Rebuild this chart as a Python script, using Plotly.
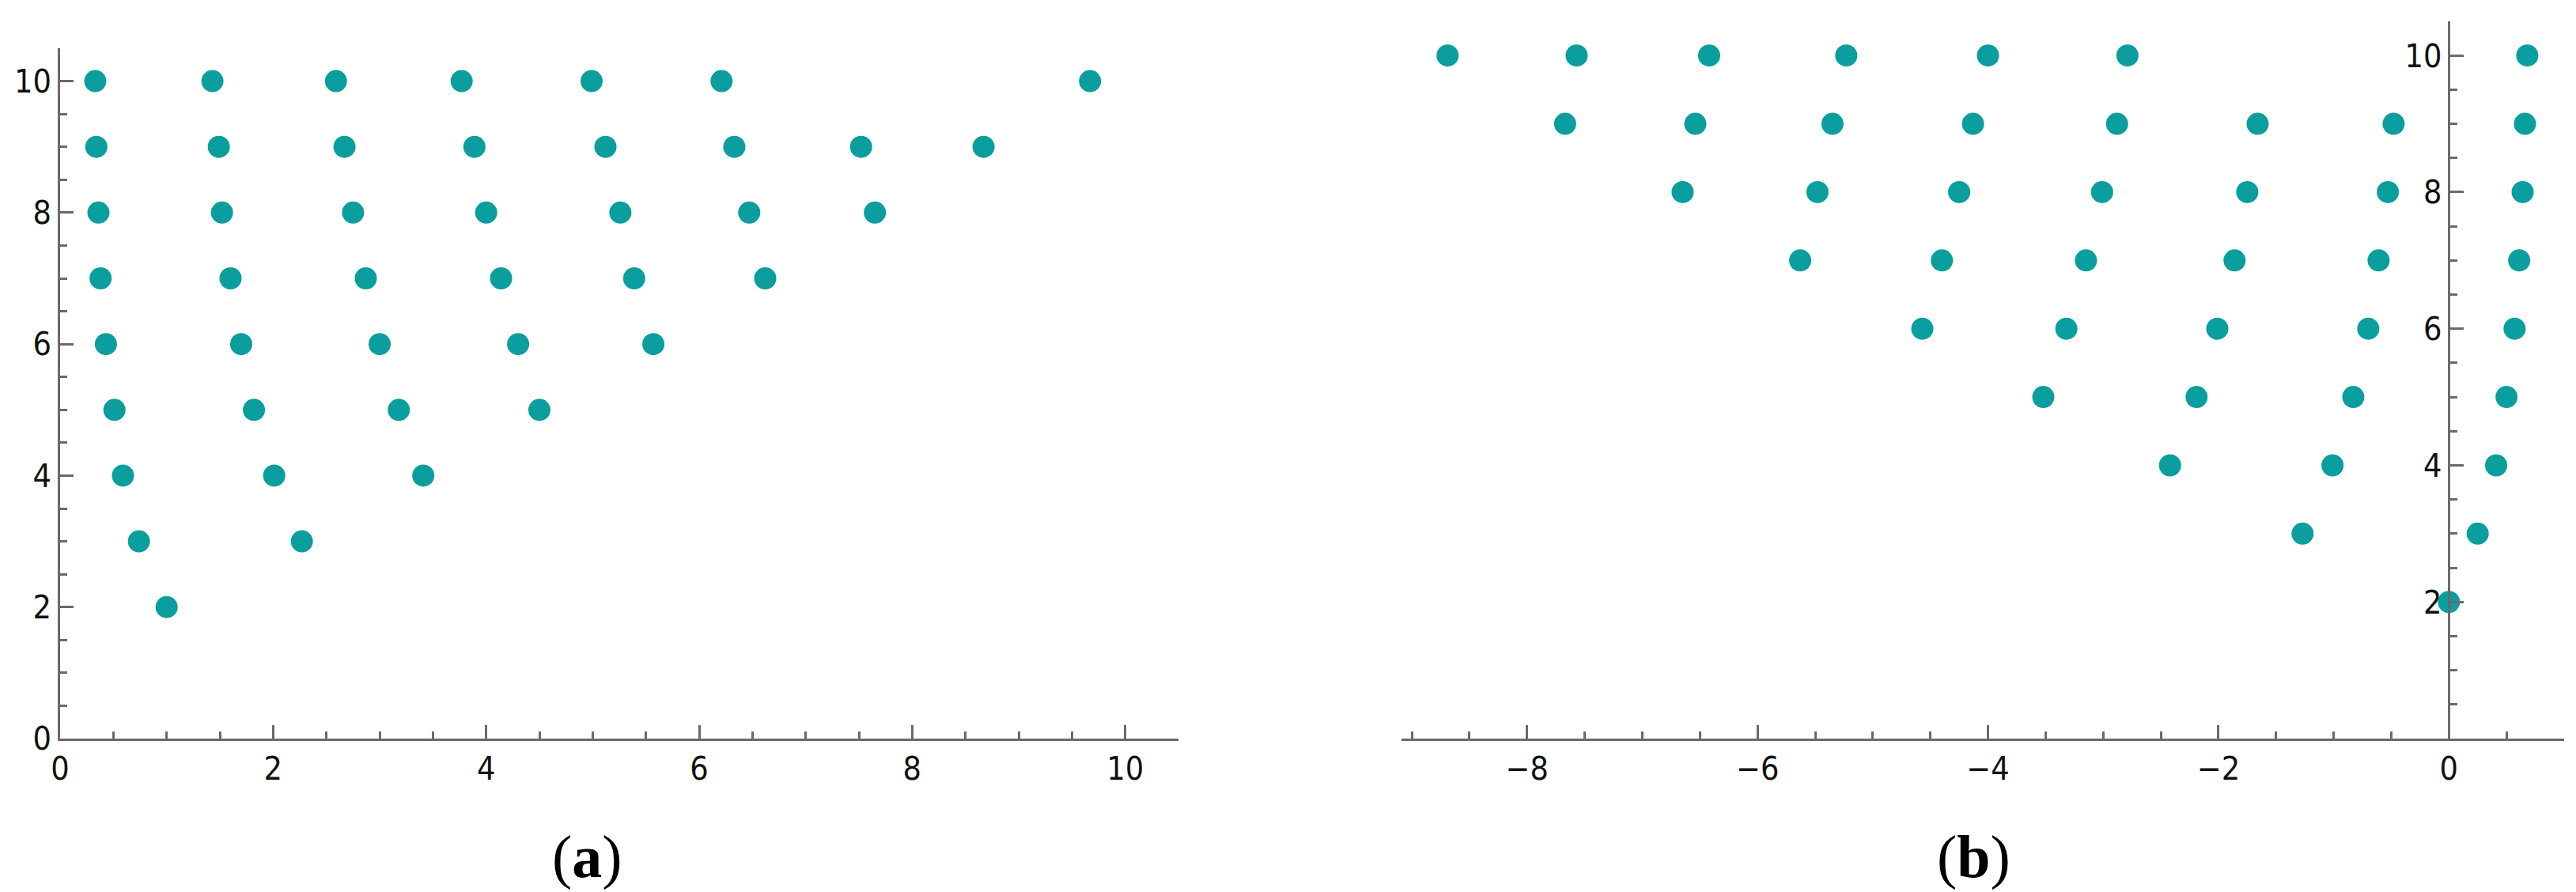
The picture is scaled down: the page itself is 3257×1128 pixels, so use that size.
import plotly.graph_objects as go

# ---------------- data ----------------
levels = [2, 3, 4, 5, 6, 7, 8, 9, 10]

# panel (a): x positions of the points on each horizontal level
a_row2 = [1.00]
a_row3 = [0.74, 2.27]
a_row4 = [0.59, 2.01, 3.41]
a_row5 = [0.51, 1.82, 3.18, 4.50]
a_row6 = [0.43, 1.70, 3.00, 4.30, 5.57]
a_row7 = [0.38, 1.60, 2.87, 4.14, 5.39, 6.62]
a_row8 = [0.36, 1.52, 2.75, 4.00, 5.26, 6.47, 7.65]
a_row9 = [0.34, 1.49, 2.67, 3.89, 5.12, 6.33, 7.52, 8.67]
a_row10 = [0.33, 1.43, 2.59, 3.77, 4.99, 6.21, 9.67]

# panel (b)
b_row2 = [0.00]
b_row3 = [-1.27, 0.25]
b_row4 = [-2.42, -1.01, 0.41]
b_row5 = [-3.52, -2.19, -0.83, 0.50]
b_row6 = [-4.57, -3.32, -2.01, -0.70, 0.57]
b_row7 = [-5.63, -4.40, -3.15, -1.86, -0.61, 0.61]
b_row8 = [-6.65, -5.48, -4.25, -3.01, -1.75, -0.53, 0.64]
b_row9 = [-7.67, -6.54, -5.35, -4.13, -2.88, -1.66, -0.48, 0.66]
b_row10 = [-8.69, -7.57, -6.42, -5.23, -4.00, -2.79, 0.68]

a_rows = [a_row2, a_row3, a_row4, a_row5, a_row6, a_row7, a_row8, a_row9, a_row10]
b_rows = [b_row2, b_row3, b_row4, b_row5, b_row6, b_row7, b_row8, b_row9, b_row10]

a_xticks = [0, 2, 4, 6, 8, 10]
a_yticks = [0, 2, 4, 6, 8, 10]
b_xticks = [-8, -6, -4, -2, 0]
b_yticks = [2, 4, 6, 8, 10]

panel_labels = ["(<b>a</b>)", "(<b>b</b>)"]

# ---------------- figure ----------------
W, H = 3257, 1128
DOT = "#0B9E9E"
AXC = "#6A6A6A"
TICKFONT = dict(family="Liberation Sans Narrow, DejaVu Sans Condensed, sans-serif", size=41, color="#111111")

def flat(rows):
    xs, ys = [], []
    for lv, row in zip(levels, rows):
        xs += row
        ys += [lv] * len(row)
    return xs, ys

ax, ay = flat(a_rows)
bx, by = flat(b_rows)

fig = go.Figure()
fig.add_trace(go.Scatter(x=ax, y=ay, mode="markers", xaxis="x", yaxis="y",
                         marker=dict(size=28, color=DOT), cliponaxis=False, showlegend=False))
fig.add_trace(go.Scatter(x=bx, y=by, mode="markers", xaxis="x2", yaxis="y2",
                         marker=dict(size=28, color=DOT), cliponaxis=False, showlegend=False))

def axis_common(tickvals):
    return dict(
        automargin=False,
        showgrid=False, zeroline=False, showline=True, linecolor=AXC, linewidth=2.5,
        ticks="inside", ticklen=17, tickwidth=2.5, tickcolor=AXC,
        tickvals=tickvals, ticktext=[("\u2212" + str(-v)) if v < 0 else str(v) for v in tickvals],
        tickfont=TICKFONT,
        minor=dict(ticks="inside", ticklen=9, tickwidth=2.5, tickcolor=AXC, tick0=0, dtick=0.5),
    )

xa_dom = [68 / W, 1482 / W]
xb_dom = [1764 / W, 3234 / W]
b_range = [-9.09, 1.0]
y0_frac = 1 - 926 / H
ya_dom = [y0_frac, 1 - 53 / H]
yb_dom = [y0_frac, 1 - 19 / H]
yb_pos = xb_dom[0] + (0 - b_range[0]) / (b_range[1] - b_range[0]) * (xb_dom[1] - xb_dom[0])

fig.update_layout(
    width=W, height=H, margin=dict(l=0, r=0, t=0, b=0, autoexpand=False),
    paper_bgcolor="white", plot_bgcolor="white",
    xaxis=dict(domain=xa_dom, range=[0, 10.5], anchor="y", **axis_common(a_xticks)),
    yaxis=dict(domain=ya_dom, range=[0, 10.5], anchor="x", **axis_common(a_yticks)),
    xaxis2=dict(domain=xb_dom, range=b_range, anchor="y2", **axis_common(b_xticks)),
    yaxis2=dict(domain=yb_dom, range=[0, 10.5], anchor="free", position=yb_pos, **axis_common(b_yticks)),
)

label_font = dict(family="Liberation Serif, Times New Roman, serif", size=76, color="black")
fig.add_annotation(text=panel_labels[0], x=734 / W, y=1 - 1075 / H, xref="paper", yref="paper",
                   showarrow=False, xanchor="center", yanchor="middle", font=label_font)
fig.add_annotation(text=panel_labels[1], x=2487 / W, y=1 - 1075 / H, xref="paper", yref="paper",
                   showarrow=False, xanchor="center", yanchor="middle", font=label_font)

fig.write_html("out.html")
